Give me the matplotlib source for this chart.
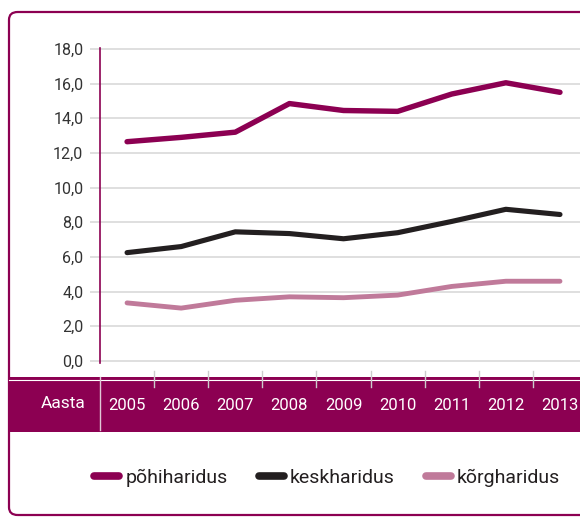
import matplotlib
matplotlib.use("Agg")
import matplotlib.pyplot as plt
import matplotlib.patches as patches
from matplotlib.lines import Line2D
from matplotlib.transforms import blended_transform_factory

plt.rcParams['font.family'] = ['Liberation Sans Narrow', 'DejaVu Sans Condensed', 'Roboto', 'DejaVu Sans']

# andmed
aastad = ['2005', '2006', '2007', '2008', '2009', '2010', '2011', '2012', '2013']
pohiharidus = [12.65, 12.9, 13.2, 14.85, 14.45, 14.4, 15.4, 16.05, 15.5]
keskharidus = [6.25, 6.6, 7.45, 7.35, 7.05, 7.4, 8.05, 8.75, 8.45]
korgharidus = [3.35, 3.05, 3.5, 3.7, 3.65, 3.8, 4.3, 4.6, 4.6]
y_ticks = [0, 2, 4, 6, 8, 10, 12, 14, 16, 18]

MAGENTA = '#8c0052'
BLACK = '#231f20'
PINK = '#c07a9a'
GRID = '#d9d9d9'

W, H = 580, 518
fig = plt.figure(figsize=(5.8, 5.18), dpi=100)

def fx(px):
    return px / W

def fy(py):
    return 1 - py / H

# raam
border = patches.FancyBboxPatch((fx(9), fy(515)), fx(640) - fx(9), fy(12) - fy(515),
                                boxstyle="round,pad=0,rounding_size=0.015",
                                transform=fig.transFigure, facecolor='none',
                                edgecolor=MAGENTA, linewidth=1.6, zorder=1)
fig.patches.append(border)

# aastate riba
band = patches.Rectangle((fx(9), fy(432)), 1 - fx(9), fy(377) - fy(432),
                         transform=fig.transFigure, facecolor=MAGENTA,
                         edgecolor='none', zorder=2)
fig.patches.append(band)
fig.add_artist(Line2D([fx(9), 1], [fy(379.5), fy(379.5)], transform=fig.transFigure,
                      color='white', linewidth=0.8, zorder=3))
fig.add_artist(Line2D([fx(100), fx(100)], [fy(377), fy(430)], transform=fig.transFigure,
                      color='#e0c8d6', linewidth=1.0, zorder=3))

# graafik
y_bot, y_top = 362.7, 48.1
ax = fig.add_axes([fx(100), fy(y_bot), 1 - fx(100), (y_bot - y_top) / H])
ax.set_ylim(-0.1, 18.05)
ax.set_xlim(-0.5, 8.37)

x = list(range(len(aastad)))
ax.plot(x, pohiharidus, color=MAGENTA, linewidth=3.9, solid_capstyle='round', zorder=3)
ax.plot(x, keskharidus, color=BLACK, linewidth=3.7, solid_capstyle='round', zorder=3)
ax.plot(x, korgharidus, color=PINK, linewidth=3.5, solid_capstyle='round', zorder=3)

for t in y_ticks:
    ax.axhline(t, color=GRID, linewidth=1.2, zorder=1)
ax.set_yticks(y_ticks)
ax.set_yticklabels([f"{t:.1f}".replace('.', ',') for t in y_ticks],
                   fontsize=11.5, color='#333333')
ax.tick_params(axis='y', length=7, color=GRID, width=1.2, pad=5)
ax.set_xticks([])

for s in ['top', 'right', 'bottom']:
    ax.spines[s].set_visible(False)
ax.spines['left'].set_color(MAGENTA)
ax.spines['left'].set_linewidth(1.2)

# eraldajad riba kohal
tr = blended_transform_factory(ax.transData, fig.transFigure)
for i in range(len(aastad) - 1):
    fig.add_artist(Line2D([i + 0.5, i + 0.5], [fy(371), fy(387)], transform=tr,
                          color='#cccccc', linewidth=1.0, zorder=4))

for i, a in enumerate(aastad):
    fig.text(i, fy(406), a, transform=tr, ha='center', va='center',
             color='white', fontsize=12, zorder=5)
fig.text(fx(63), fy(403), 'Aasta', ha='center', va='center', color='white',
         fontsize=12.5, zorder=5)

# legend
handles = [
    Line2D([], [], color=MAGENTA, linewidth=5.5, solid_capstyle='round'),
    Line2D([], [], color=BLACK, linewidth=5.5, solid_capstyle='round'),
    Line2D([], [], color=PINK, linewidth=5.5, solid_capstyle='round'),
]
fig.legend(handles, ['põhiharidus', 'keskharidus', 'kõrgharidus'],
           loc='center', bbox_to_anchor=(fx(327), fy(478)), ncol=3, frameon=False,
           fontsize=14, handlelength=1.3, handletextpad=0.3, columnspacing=1.6,
           labelcolor='#231f20')

fig.savefig('out.png', dpi=100)
